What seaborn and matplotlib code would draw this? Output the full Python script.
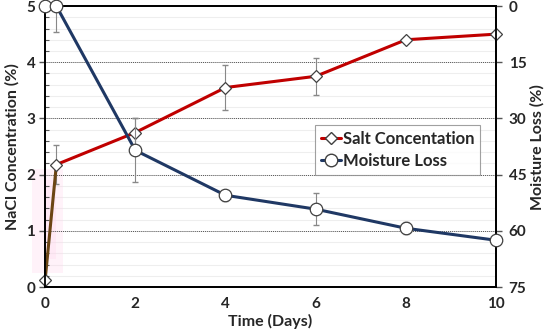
import numpy as np
import pandas as pd
import matplotlib
matplotlib.use("Agg")
import matplotlib.pyplot as plt
import seaborn as sns
from matplotlib.lines import Line2D

# Salt concentration (left axis) and moisture loss (right axis, inverted)
days = [0, 0.25, 2, 4, 6, 8, 10]
salt = [0.12, 2.18, 2.75, 3.55, 3.75, 4.4, 4.5]
salt_err = [0.0, 0.35, 0.25, 0.4, 0.33, 0.05, 0.0]
moisture = [0.0, 0.0, 38.5, 50.5, 54.2, 59.3, 62.5]
moisture_err = [0.0, 7.0, 8.5, 1.5, 4.3, 1.6, 0.0]

RED = "#c00000"
NAVY = "#1f3864"
BROWN = "#6b4514"

sns.set_style("white")
plt.rcParams["font.family"] = ["Lato", "DejaVu Sans"]
plt.rcParams["font.weight"] = "bold"

df = pd.DataFrame({"day": days, "salt": salt, "moisture": moisture})

fig = plt.figure(figsize=(5.5, 3.35), dpi=100)
ax = fig.add_axes([0.082, 0.143, 0.82, 0.839])
ax2 = ax.twinx()

# faint grid: minor every 0.2, major dotted at whole numbers
for v in np.arange(0.2, 5.0, 0.2):
    ax.axhline(v, color="#eeeeee", lw=0.8, zorder=0)
for v in [1, 2, 3, 4]:
    ax.axhline(v, color="#555555", lw=0.7, ls=(0, (1, 1)), zorder=0.5)

# pink haze near the start
ax.axvspan(-0.3, 0.4, ymin=0.05, ymax=0.42, color="#ffd6ec", alpha=0.3, lw=0,
           zorder=0.2, clip_on=False)
ax.axvspan(-0.15, 0.25, ymin=0.1, ymax=0.38, color="#ffd6ec", alpha=0.3, lw=0,
           zorder=0.2)

# salt
ax.errorbar(days, salt, yerr=salt_err, fmt="none", ecolor="#888888",
            elinewidth=0.8, capsize=2, zorder=2)
sns.lineplot(data=df.iloc[1:], x="day", y="salt", ax=ax, color=RED, lw=2.2,
             zorder=3, legend=False)
sns.lineplot(data=df.iloc[:2], x="day", y="salt", ax=ax, color=BROWN, lw=2.2,
             zorder=3, legend=False)
ax.plot(days, salt, ls="none", marker="D", ms=6.5, mfc="white", mec="#404040",
        mew=0.9, zorder=5, clip_on=False)

# moisture
ax2.errorbar(days, moisture, yerr=moisture_err, fmt="none", ecolor="#888888",
             elinewidth=0.8, capsize=2, zorder=2)
sns.lineplot(data=df, x="day", y="moisture", ax=ax2, color=NAVY, lw=2.2,
             zorder=3, legend=False)
ax2.plot(days, moisture, ls="none", marker="o", ms=9, mfc="white", mec="#404040",
         mew=0.9, zorder=5, clip_on=False)

ax.set_xlim(0, 10)
ax.set_ylim(0, 5)
ax2.set_ylim(75, 0)
ax.set_xticks([0, 2, 4, 6, 8, 10])
ax.set_yticks([0, 1, 2, 3, 4, 5])
ax.set_yticks(np.arange(0, 5.01, 0.2), minor=True)
ax2.set_yticks([0, 15, 30, 45, 60, 75])

for a in (ax, ax2):
    for s in a.spines.values():
        s.set_color("black")
        s.set_linewidth(1.3)
ax.tick_params(axis="both", which="major", direction="out", length=4, width=1,
               labelsize=11, color="#555555", pad=3)
ax.tick_params(axis="y", which="minor", direction="in", length=3, width=0.8,
               color="#555555", left=True)
ax2.tick_params(axis="y", direction="out", length=4, width=1, labelsize=11,
                color="#555555", pad=5)
for lab in ax.get_xticklabels() + ax.get_yticklabels() + ax2.get_yticklabels():
    lab.set_fontweight("bold")

ax.set_xlabel("Time (Days)", fontsize=11.5, fontweight="bold", labelpad=2)
ax.set_ylabel("NaCl Concentration (%)", fontsize=11.5, fontweight="bold", labelpad=5)
ax2.set_ylabel("Moisture Loss (%)", fontsize=11.5, fontweight="bold", labelpad=3)

handles = [
    Line2D([], [], color=RED, lw=2.2, marker="D", ms=6.5, mfc="white", mec="#404040"),
    Line2D([], [], color=NAVY, lw=2.2, marker="o", ms=9, mfc="white", mec="#404040"),
]
leg = ax2.legend(handles, ["Salt Concentation", "Moisture Loss"],
                 loc="upper left", bbox_to_anchor=(0.58, 0.605), frameon=True,
                 fancybox=False, edgecolor="#888888", handlelength=1.2,
                 handletextpad=0.1, borderpad=0.35, labelspacing=0.35,
                 prop={"size": 12, "weight": "bold"})
leg.get_frame().set_linewidth(0.8)

fig.savefig("out.png", dpi=100)
